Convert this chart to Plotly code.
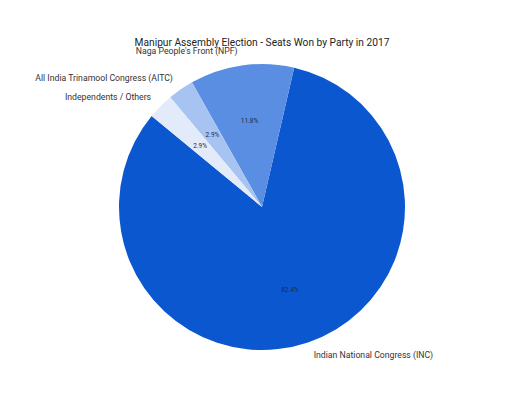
import plotly.graph_objects as go

# seats won, 2017 Manipur assembly election (as shown in chart)
parties = [
    "Indian National Congress (INC)",
    "Naga People's Front (NPF)",
    "All India Trinamool Congress (AITC)",
    "Independents / Others",
]
seats = [28, 4, 1, 1]
colors = ["#0b57d0", "#5a8ee2", "#a7c3f1", "#e3ebfa"]

FONT = "Roboto"
ROT = 13
PLOT_H = 304  # plot area height in px (410 - t - b)
CLEAR = "rgba(0,0,0,0)"


def dom(radius):
    # pie domain giving a pie of this radius, centred in the plot area
    f = radius / PLOT_H
    return {"x": [0, 1], "y": [0.5 - f, 0.5 + f]}


def pct_tpl(keep):
    return ["%{percent:.1%}" if k else "" for k in keep]


common = dict(
    labels=parties,
    values=seats,
    sort=False,
    direction="counterclockwise",
    rotation=ROT,
    automargin=False,
    showlegend=False,
)

fig = go.Figure()
# coloured slices
fig.add_trace(
    go.Pie(
        domain=dom(143),
        marker={"colors": colors, "line": {"width": 0}},
        textinfo="none",
        hovertemplate="%{label}<br>%{value} seats (%{percent:.1%})<extra></extra>",
        **common,
    )
)
# party names outside
fig.add_trace(
    go.Pie(
        domain=dom(152),
        marker={"colors": [CLEAR] * 4},
        textinfo="label",
        textposition="outside",
        textfont={"family": FONT, "size": 8.7, "color": "#333333"},
        hoverinfo="skip",
        **common,
    )
)
# percentages of the two big slices
fig.add_trace(
    go.Pie(
        domain=dom(109),
        hole=0.6,
        marker={"colors": [CLEAR] * 4},
        texttemplate=pct_tpl([True, True, False, False]),
        textposition="inside",
        insidetextorientation="horizontal",
        textfont={"family": FONT, "size": 6.5, "color": "#1f2a44"},
        hoverinfo="skip",
        **common,
    )
)
# percentages of the two small slices
fig.add_trace(
    go.Pie(
        domain=dom(95),
        marker={"colors": [CLEAR] * 4},
        texttemplate=pct_tpl([False, False, True, True]),
        textposition="inside",
        insidetextorientation="horizontal",
        textfont={"family": FONT, "size": 6.5, "color": "#1f2a44"},
        hoverinfo="skip",
        **common,
    )
)
fig.update_layout(
    width=512,
    height=410,
    margin={"l": 80, "r": 84, "t": 47, "b": 410 - 47 - PLOT_H, "autoexpand": False},
    paper_bgcolor="white",
    title={
        "text": "Manipur Assembly Election - Seats Won by Party in 2017",
        "font": {"family": FONT, "size": 10.2, "color": "#222222"},
        "x": 0.5,
        "xref": "paper",
        "xanchor": "center",
        "y": 1 - 34 / 410,
        "yanchor": "middle",
    },
)
fig.write_html("out.html")
